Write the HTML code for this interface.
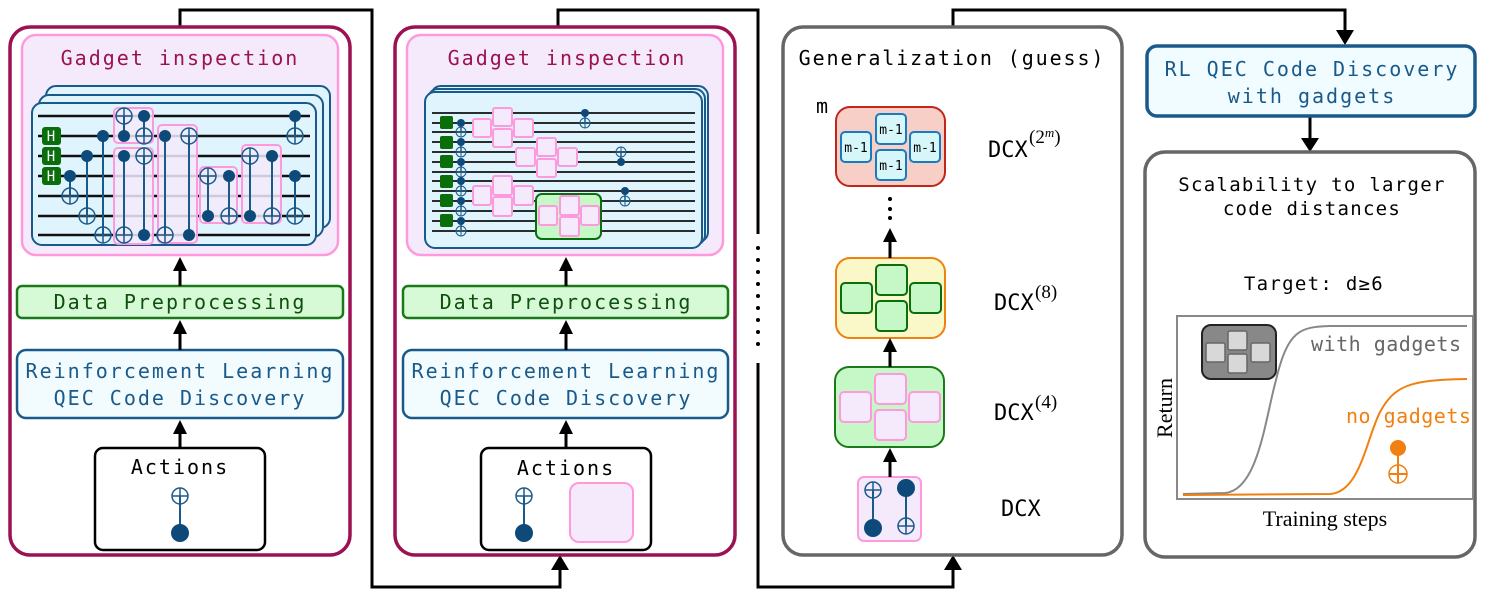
<!DOCTYPE html>
<html><head><meta charset="utf-8"><style>
html,body{margin:0;padding:0;background:#fff;}
svg{display:block;}
.m{font-family:"DejaVu Sans Mono","Liberation Mono",monospace;}
.s{font-family:"Liberation Serif","DejaVu Serif",serif;}
</style></head><body>
<svg width="1495" height="598" viewBox="0 0 1495 598" xmlns="http://www.w3.org/2000/svg">
<defs>
<g id="c"><circle r="6" fill="#0d4a7a"/></g>
<g id="t"><circle r="8" fill="none" stroke="#1a5a8a" stroke-width="1.5"/><path d="M-8 0H8M0 -8V8" stroke="#1a5a8a" stroke-width="1.5"/></g>
<g id="cs"><circle r="4" fill="#0d4a7a"/></g>
<g id="ts"><circle r="5" fill="none" stroke="#1a5a8a" stroke-width="1"/><path d="M-5 0H5M0 -5V5" stroke="#1a5a8a" stroke-width="1"/></g>
</defs>

<!-- connectors -->
<g fill="none" stroke="#000" stroke-width="3">
<path d="M180 27V10H372V587H560V568"/>
<path d="M558 27V10H758V234"/>
<path d="M758 363V587H953V568"/>
<path d="M953 27V10H1345V32"/>
<path d="M1310 117V140"/>
</g>
<g fill="#000">
<path d="M551 570L560 555L569 570z"/>
<path d="M944 570L953 555L962 570z"/>
<path d="M1336 30L1345 45L1354 30z"/>
<path d="M1301 138L1310 152L1319 138z"/>
</g>
<g fill="#000"><circle cx="758" cy="248" r="2"/><circle cx="758" cy="260" r="2"/><circle cx="758" cy="272" r="2"/><circle cx="758" cy="284" r="2"/><circle cx="758" cy="296" r="2"/><circle cx="758" cy="308" r="2"/><circle cx="758" cy="320" r="2"/><circle cx="758" cy="332" r="2"/><circle cx="758" cy="344" r="2"/></g>

<!-- ===== LEFT PANEL ===== -->
<rect x="10" y="27" width="340" height="528" rx="20" fill="#fff" stroke="#9b1152" stroke-width="3.5"/>
<rect x="22" y="35" width="316" height="220" rx="14" fill="#f5eafc" stroke="#ff99dd" stroke-width="2.5"/>
<text x="180" y="65" text-anchor="middle" class="m" font-size="20" letter-spacing="2" fill="#9b1152">Gadget inspection</text>
<rect x="46" y="86" width="284" height="142" rx="10" fill="#dff4fc" stroke="#1a5a8a" stroke-width="2"/>
<rect x="39" y="95" width="284" height="142" rx="10" fill="#dff4fc" stroke="#1a5a8a" stroke-width="2"/>
<rect x="32" y="103" width="284" height="142" rx="10" fill="#dff4fc" stroke="#1a5a8a" stroke-width="2"/>
<g stroke="#111" stroke-width="2.5">
<path d="M38 116H310M38 136H310M38 156H310M38 176H310M38 196H310M38 216H310M38 235H310"/>
</g>
<g fill="#f5eafc" fill-opacity="0.85" stroke="#ff99dd" stroke-width="2">
<rect x="114" y="108" width="39" height="35" rx="4"/>
<rect x="114" y="148" width="39" height="96" rx="4"/>
<rect x="158" y="125" width="39" height="118" rx="4"/>
<rect x="200" y="167" width="37" height="56" rx="4"/>
<rect x="242" y="145" width="39" height="78" rx="4"/>
</g>
<g><rect x="42" y="127" width="19" height="18" rx="3" fill="#0a6e0a"/><rect x="42" y="147" width="19" height="18" rx="3" fill="#0a6e0a"/><rect x="42" y="167" width="19" height="18" rx="3" fill="#0a6e0a"/></g>
<g class="m" font-size="14" fill="#fff" text-anchor="middle"><text x="51" y="141">H</text><text x="51" y="161">H</text><text x="51" y="181">H</text></g>
<g stroke="#1a5a8a" stroke-width="2">
<path d="M70 176V196M87 156V216M103 136V235M124 116V136M144 116V136M124 156V235M144 156V235M165 136V235M189 136V235M208 176V216M229 176V216M250 156V216M272 156V216M295 116V136M295 176V216"/>
</g>
<use href="#c" x="70" y="176"/><use href="#t" x="70" y="196"/>
<use href="#c" x="87" y="156"/><use href="#t" x="87" y="216"/>
<use href="#c" x="103" y="136"/><use href="#t" x="103" y="235"/>
<use href="#t" x="124" y="116"/><use href="#c" x="124" y="136"/>
<use href="#c" x="144" y="116"/><use href="#t" x="144" y="136"/>
<use href="#c" x="124" y="156"/><use href="#t" x="124" y="235"/>
<use href="#t" x="144" y="156"/><use href="#c" x="144" y="235"/>
<use href="#c" x="165" y="136"/><use href="#t" x="165" y="235"/>
<use href="#t" x="189" y="136"/><use href="#c" x="189" y="235"/>
<use href="#t" x="208" y="176"/><use href="#c" x="208" y="216"/>
<use href="#c" x="229" y="176"/><use href="#t" x="229" y="216"/>
<use href="#t" x="250" y="156"/><use href="#c" x="250" y="216"/>
<use href="#c" x="272" y="156"/><use href="#t" x="272" y="216"/>
<use href="#c" x="295" y="116"/><use href="#t" x="295" y="136"/>
<use href="#c" x="295" y="176"/><use href="#t" x="295" y="216"/>

<rect x="17" y="286" width="326" height="32" rx="5" fill="#d6fad6" stroke="#1a7a1a" stroke-width="2.5"/>
<text x="180" y="309" text-anchor="middle" class="m" font-size="20" letter-spacing="2" fill="#0f4f0f">Data Preprocessing</text>
<rect x="17" y="350" width="326" height="68" rx="9" fill="#f2fcff" stroke="#1a5a8a" stroke-width="2.5"/>
<text x="180" y="378" text-anchor="middle" class="m" font-size="20" letter-spacing="2" fill="#1a5a8a">Reinforcement Learning</text>
<text x="180" y="405" text-anchor="middle" class="m" font-size="20" letter-spacing="2" fill="#1a5a8a">QEC Code Discovery</text>
<rect x="95" y="448" width="170" height="102" rx="8" fill="#fff" stroke="#000" stroke-width="2.5"/>
<text x="180" y="474" text-anchor="middle" class="m" font-size="20" letter-spacing="2" fill="#000">Actions</text>
<path d="M180 496V533" stroke="#1a5a8a" stroke-width="2"/>
<use href="#t" x="180" y="496"/><circle cx="180" cy="533" r="9" fill="#0d4a7a"/>
<path d="M180 286V268M180 350V332M180 448V432" stroke="#000" stroke-width="3"/>
<g fill="#000"><path d="M173 271L180 257L187 271z"/><path d="M173 334L180 320L187 334z"/><path d="M173 434L180 420L187 434z"/></g>

<!-- ===== MIDDLE PANEL ===== -->
<rect x="395" y="27" width="340" height="528" rx="20" fill="#fff" stroke="#9b1152" stroke-width="3.5"/>
<rect x="407" y="35" width="316" height="220" rx="14" fill="#f5eafc" stroke="#ff99dd" stroke-width="2.5"/>
<text x="567" y="65" text-anchor="middle" class="m" font-size="20" letter-spacing="2" fill="#9b1152">Gadget inspection</text>
<rect x="431" y="86" width="277" height="156" rx="10" fill="#dff4fc" stroke="#1a5a8a" stroke-width="2"/>
<rect x="428" y="89" width="277" height="156" rx="10" fill="#dff4fc" stroke="#1a5a8a" stroke-width="2"/>
<rect x="425" y="92" width="277" height="156" rx="10" fill="#dff4fc" stroke="#1a5a8a" stroke-width="2"/>
<g stroke="#111" stroke-width="1.8">
<path d="M432 113H695M432 123H695M432 132H695M432 142H695M432 152H695M432 162H695M432 172H695M432 181H695M432 191H695M432 201H695M432 211H695M432 221H695M432 231H695"/>
</g>
<g fill="#0a6e0a"><rect x="440" y="116" width="13" height="13" rx="2"/><rect x="440" y="136" width="13" height="13" rx="2"/><rect x="440" y="155" width="13" height="13" rx="2"/><rect x="440" y="175" width="13" height="13" rx="2"/><rect x="440" y="194" width="13" height="13" rx="2"/><rect x="440" y="214" width="13" height="13" rx="2"/></g>
<g stroke="#1a5a8a" stroke-width="1.5"><path d="M461 123V132M461 142V152M461 162V172M461 181V191M461 201V211M461 221V231M585 113V123M621 152V162M625 191V201"/></g>
<use href="#cs" x="461" y="123"/><use href="#ts" x="461" y="132"/>
<use href="#cs" x="461" y="142"/><use href="#ts" x="461" y="152"/>
<use href="#cs" x="461" y="162"/><use href="#ts" x="461" y="172"/>
<use href="#cs" x="461" y="181"/><use href="#ts" x="461" y="191"/>
<use href="#cs" x="461" y="201"/><use href="#ts" x="461" y="211"/>
<use href="#cs" x="461" y="221"/><use href="#ts" x="461" y="231"/>
<use href="#cs" x="585" y="113"/><use href="#ts" x="585" y="123"/>
<use href="#ts" x="621" y="152"/><use href="#cs" x="621" y="162"/>
<use href="#cs" x="625" y="191"/><use href="#ts" x="625" y="201"/>
<rect x="536" y="194" width="65" height="45" rx="6" fill="#c6f7c6" stroke="#0a6e0a" stroke-width="2"/>
<g fill="#f5eafc" stroke="#ff99dd" stroke-width="2">
<rect x="473" y="119" width="18" height="18" rx="2"/><rect x="493" y="108" width="19" height="18" rx="2"/><rect x="493" y="129" width="19" height="18" rx="2"/><rect x="514" y="119" width="19" height="18" rx="2"/>
<rect x="516" y="148" width="19" height="18" rx="2"/><rect x="537" y="138" width="19" height="18" rx="2"/><rect x="537" y="159" width="19" height="18" rx="2"/><rect x="558" y="148" width="19" height="18" rx="2"/>
<rect x="473" y="186" width="18" height="19" rx="2"/><rect x="493" y="176" width="19" height="19" rx="2"/><rect x="493" y="197" width="19" height="19" rx="2"/><rect x="514" y="186" width="19" height="19" rx="2"/>
<rect x="539" y="206" width="18" height="19" rx="2"/><rect x="560" y="196" width="19" height="19" rx="2"/><rect x="560" y="217" width="19" height="19" rx="2"/><rect x="581" y="206" width="18" height="19" rx="2"/>
</g>
<rect x="403" y="286" width="325" height="32" rx="5" fill="#d6fad6" stroke="#1a7a1a" stroke-width="2.5"/>
<text x="566" y="309" text-anchor="middle" class="m" font-size="20" letter-spacing="2" fill="#0f4f0f">Data Preprocessing</text>
<rect x="403" y="350" width="325" height="68" rx="9" fill="#f2fcff" stroke="#1a5a8a" stroke-width="2.5"/>
<text x="566" y="378" text-anchor="middle" class="m" font-size="20" letter-spacing="2" fill="#1a5a8a">Reinforcement Learning</text>
<text x="566" y="405" text-anchor="middle" class="m" font-size="20" letter-spacing="2" fill="#1a5a8a">QEC Code Discovery</text>
<rect x="481" y="448" width="170" height="102" rx="8" fill="#fff" stroke="#000" stroke-width="2.5"/>
<text x="566" y="475" text-anchor="middle" class="m" font-size="20" letter-spacing="2" fill="#000">Actions</text>
<path d="M524 496V533" stroke="#1a5a8a" stroke-width="2"/>
<use href="#t" x="524" y="496"/><circle cx="524" cy="533" r="9" fill="#0d4a7a"/>
<rect x="570" y="483" width="63" height="59" rx="9" fill="#f5eafc" stroke="#ff99dd" stroke-width="2"/>
<path d="M566 286V268M566 350V332M566 448V432" stroke="#000" stroke-width="3"/>
<g fill="#000"><path d="M559 271L566 257L573 271z"/><path d="M559 334L566 320L573 334z"/><path d="M559 434L566 420L573 434z"/></g>

<!-- ===== GENERALIZATION PANEL ===== -->
<rect x="783" y="27" width="339" height="528" rx="20" fill="#fff" stroke="#666" stroke-width="3.5"/>
<text x="952" y="65" text-anchor="middle" class="m" font-size="20" letter-spacing="1.9" fill="#000">Generalization (guess)</text>
<text x="816" y="113" class="m" font-size="20" fill="#000">m</text>
<rect x="836" y="107" width="109" height="79" rx="14" fill="#f8cfc6" stroke="#c0261a" stroke-width="2"/>
<g fill="#d6f6fa" stroke="#1a7ac0" stroke-width="2">
<rect x="841" y="132" width="30" height="30" rx="4"/><rect x="876" y="114" width="30" height="30" rx="4"/><rect x="876" y="150" width="30" height="30" rx="4"/><rect x="910" y="132" width="30" height="30" rx="4"/>
</g>
<g class="m" font-size="13" fill="#000" text-anchor="middle"><text x="856" y="152">m-1</text><text x="891" y="134">m-1</text><text x="891" y="170">m-1</text><text x="925" y="152">m-1</text></g>
<g fill="#000"><circle cx="890" cy="199" r="2"/><circle cx="890" cy="209" r="2"/><circle cx="890" cy="218" r="2"/></g>
<rect x="836" y="258" width="109" height="80" rx="14" fill="#faf7c8" stroke="#f08010" stroke-width="2"/>
<g fill="#c6f7c6" stroke="#0a6e0a" stroke-width="2">
<rect x="841" y="283" width="31" height="30" rx="4"/><rect x="876" y="265" width="31" height="30" rx="4"/><rect x="876" y="301" width="31" height="30" rx="4"/><rect x="910" y="283" width="31" height="30" rx="4"/>
</g>
<rect x="835" y="367" width="109" height="80" rx="14" fill="#c6f7c6" stroke="#1a7a1a" stroke-width="2"/>
<g fill="#f5eafc" stroke="#ff99dd" stroke-width="2">
<rect x="840" y="392" width="31" height="30" rx="4"/><rect x="875" y="374" width="31" height="30" rx="4"/><rect x="875" y="410" width="31" height="30" rx="4"/><rect x="909" y="392" width="31" height="30" rx="4"/>
</g>
<rect x="858" y="477" width="63" height="64" rx="6" fill="#f5eafc" stroke="#ff99dd" stroke-width="2"/>
<path d="M873 490V528M906 488V526" stroke="#1a5a8a" stroke-width="2"/>
<use href="#t" x="873" y="490"/><circle cx="873" cy="528" r="9" fill="#0d4a7a"/>
<circle cx="906" cy="488" r="9" fill="#0d4a7a"/><use href="#t" x="906" y="526"/>
<path d="M890 258V238M890 367V350M890 477V458" stroke="#000" stroke-width="3"/>
<g fill="#000"><path d="M883 242L890 228L897 242z"/><path d="M883 352L890 338L897 352z"/><path d="M883 462L890 448L897 462z"/></g>
<g class="m" font-size="22" fill="#000">
<text x="988" y="157">DCX</text><text x="1029" y="143" class="s" font-size="19">(2<tspan font-style="italic" font-size="13" dy="-6">m</tspan><tspan dy="6">)</tspan></text>
<text x="994" y="310">DCX</text><text x="1035" y="298" class="s" font-size="19">(8)</text>
<text x="994" y="420">DCX</text><text x="1035" y="408" class="s" font-size="19">(4)</text>
<text x="1001" y="516">DCX</text>
</g>

<!-- ===== RIGHT ===== -->
<rect x="1147" y="46" width="328" height="70" rx="10" fill="#f0fcff" stroke="#1a5a8a" stroke-width="3.5"/>
<text x="1312" y="76" text-anchor="middle" class="m" font-size="20" letter-spacing="2" fill="#1a5a8a">RL QEC Code Discovery</text>
<text x="1312" y="103" text-anchor="middle" class="m" font-size="20" letter-spacing="2" fill="#1a5a8a">with gadgets</text>
<rect x="1145" y="152" width="330" height="405" rx="20" fill="#fff" stroke="#666" stroke-width="3.5"/>
<text x="1312" y="191" text-anchor="middle" class="m" font-size="19" letter-spacing="1.3" fill="#000">Scalability to larger</text>
<text x="1312" y="215" text-anchor="middle" class="m" font-size="19" letter-spacing="1.3" fill="#000">code distances</text>
<text x="1314" y="290" text-anchor="middle" class="m" font-size="19" letter-spacing="1.3" fill="#000">Target: d≥6</text>
<rect x="1177" y="316" width="296" height="183" fill="#fff" stroke="#888" stroke-width="2"/>
<rect x="1202" y="325" width="74" height="54" rx="9" fill="#888" stroke="#222" stroke-width="2"/>
<g fill="#d8d8d8" stroke="#666" stroke-width="1.5">
<rect x="1206" y="343" width="19" height="19" rx="2"/><rect x="1228" y="331" width="19" height="19" rx="2"/><rect x="1228" y="354" width="19" height="19" rx="2"/><rect x="1251" y="343" width="19" height="19" rx="2"/>
</g>
<path d="M1183 494L1225 493C1258 490 1265 420 1276 380C1288 330 1300 327 1330 326L1467 326" fill="none" stroke="#888" stroke-width="2"/>
<path d="M1183 495L1330 494C1360 492 1366 440 1380 412C1395 385 1410 380 1467 379" fill="none" stroke="#f08010" stroke-width="2"/>
<text x="1311" y="351" class="m" font-size="20" letter-spacing="0.5" fill="#666">with gadgets</text>
<text x="1346" y="423" class="m" font-size="20" letter-spacing="0.5" fill="#f08010">no gadgets</text>
<path d="M1398 448V482" stroke="#f08010" stroke-width="2"/>
<circle cx="1398" cy="448" r="8" fill="#f08010"/>
<circle cx="1398" cy="474" r="9" fill="#fff" stroke="#f08010" stroke-width="1.5"/><path d="M1389 474H1407M1398 465V483" stroke="#f08010" stroke-width="2"/>
<text x="1325" y="526" text-anchor="middle" class="s" font-size="22" fill="#000">Training steps</text>
<text transform="translate(1172 408) rotate(-90)" text-anchor="middle" class="s" font-size="22" fill="#000">Return</text>
</svg>
</body></html>
